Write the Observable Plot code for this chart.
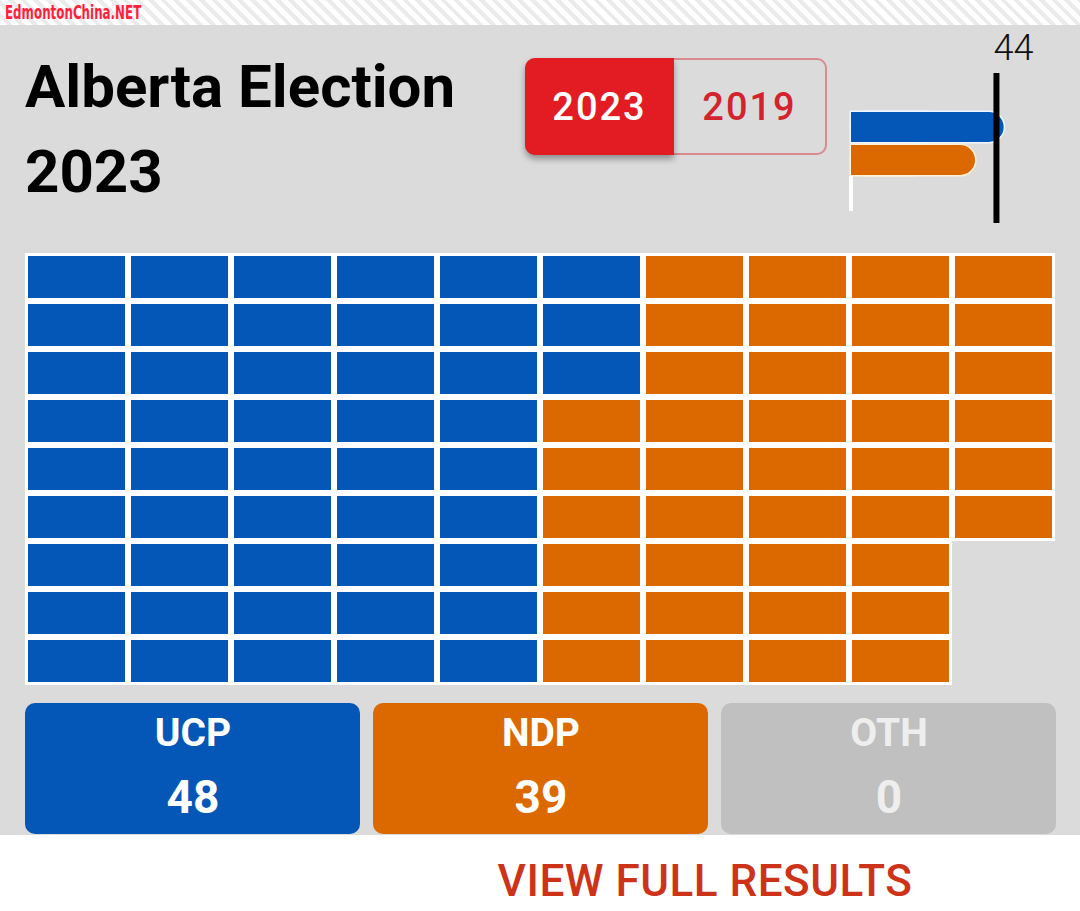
<!DOCTYPE html>
<html>
<head>
<meta charset="utf-8">
<script src="https://cdn.jsdelivr.net/npm/d3@7"></script>
<script src="https://cdn.jsdelivr.net/npm/@observablehq/plot@0.6"></script>
<style>
  html, body { margin: 0; padding: 0; }
  body { width: 1080px; height: 911px; overflow: hidden; background: #fff; font-family: Roboto, "Noto Sans", sans-serif; }
  #page { position: relative; width: 1080px; height: 911px; }
  #stripe { position: absolute; left: 0; top: 0; width: 1080px; height: 25px;
    background: repeating-linear-gradient(45deg, #ffffff 0 5px, #ebebeb 5px 9px); }
  #brand { position: absolute; left: 5px; top: 0px; font-family: "DejaVu Sans Condensed", "DejaVu Sans", sans-serif;
    font-weight: bold; font-size: 20px; color: #ff1f3d; transform: scaleX(0.66); transform-origin: left top; white-space: nowrap; }
  #panel { position: absolute; left: 0; top: 25px; width: 1080px; height: 810px; background: #dcdbdc; }
  #title { position: absolute; left: 25px; top: 44px; font-weight: 700; font-size: 60px; line-height: 85px; color: #000; }
  #toggle { position: absolute; left: 525px; top: 58px; width: 298px; height: 93px; border: 2px solid #d98a8f; border-radius: 10px; }
  #btn23 { position: absolute; left: 525px; top: 58px; width: 149px; height: 97px; background: #e31b23; border-radius: 10px 0 0 10px;
    box-shadow: 0 4px 6px rgba(0,0,0,0.35); color: #fff; font-weight: 500; font-size: 38px; letter-spacing: 2px;
    display: flex; align-items: center; justify-content: center; }
  #btn19 { position: absolute; left: 674px; top: 58px; width: 151px; height: 97px; color: #d3232e; font-weight: 500; font-size: 38px; letter-spacing: 2px;
    display: flex; align-items: center; justify-content: center; }
  #mini { position: absolute; left: 830px; top: 25px; }
  #waffle { position: absolute; left: 0; top: 240px; }
  #cards { position: absolute; left: 0; top: 695px; }
  #view { position: absolute; left: 0; width: 1080px; top: 855px; text-align: center; padding-left: 330px; box-sizing: border-box;
    font-weight: 500; font-size: 44px; color: #cc3318; letter-spacing: 0.5px; }
  svg { overflow: visible; }
</style>
</head>
<body>
<div id="page">
  <div id="stripe"></div>
  <div id="brand">EdmontonChina.NET</div>
  <div id="panel"></div>
  <div id="title">Alberta Election<br>2023</div>
  <div id="toggle"></div>
  <div id="btn23">2023</div>
  <div id="btn19">2019</div>
  <div id="mini"></div>
  <div id="waffle"></div>
  <div id="cards"></div>
  <div id="view">VIEW FULL RESULTS</div>
</div>
<script>
// ---- data ----
const parties = ["UCP", "NDP", "OTH"];
const seats = [48, 39, 0];
const partyColors = ["#0457b6", "#dc6900", "#c0c0c0"];
const outlineColors = ["#eef6ff", "#fff2d8", "#ffffff"];
const cardTextColors = ["#ffffff", "#ffffff", "#eeeeee"];
const majority = 44;
const gridRows = 9;
const gridCols = 10;

const rows = parties.map((p, i) => ({party: p, seats: seats[i], color: partyColors[i], outline: outlineColors[i], text: cardTextColors[i]}));

// waffle layout: fill column by column, top to bottom
const cells = [];
let idx = 0;
rows.forEach(r => {
  for (let k = 0; k < r.seats; k++, idx++) {
    cells.push({party: r.party, col: Math.floor(idx / gridRows), row: idx % gridRows});
  }
});

const color = {domain: parties, range: partyColors};
const won = rows.filter(d => d.seats > 0);
const none = rows.filter(d => d.seats === 0);

// ---- mini bar chart ----
const mini = Plot.plot({
  width: 250, height: 215,
  marginLeft: 21, marginRight: 0, marginTop: 83, marginBottom: 28,
  x: {domain: [0, 72], axis: null},
  y: {domain: parties, axis: null, padding: 0.1},
  style: {background: "transparent", overflow: "visible"},
  marks: [
    Plot.barX(won, {x: "seats", y: "party", fill: "outline", stroke: "outline", strokeWidth: 3, rx: 15}),
    Plot.barX(won, {x: d => d.seats / 2, y: "party", fill: "outline", stroke: "outline", strokeWidth: 3}),
    Plot.barX(won, {x: "seats", y: "party", fill: "color", rx: 15}),
    Plot.barX(won, {x: d => d.seats / 2, y: "party", fill: "color"}),
    Plot.rect(none, {x1: "seats", x2: "seats", y: "party", fill: "#ffffff", insetLeft: -2, insetRight: -2, insetTop: -2, insetBottom: -3}),
    Plot.ruleX([majority], {stroke: "#000", strokeWidth: 6, insetTop: -35, insetBottom: -11, dx: 5}),
    Plot.text([majority], {x: d => d, text: d => String(d), frameAnchor: "top", dy: -60, dx: 22, fontSize: 36, fontWeight: 300, fill: "#111", lineAnchor: "middle", fontFamily: "Roboto"})
  ]
});
document.getElementById("mini").append(mini);

// ---- waffle ----
const waffle = Plot.plot({
  width: 1080, height: 460,
  marginLeft: 24, marginRight: 24, marginTop: 12, marginBottom: 15,
  x: {domain: d3.range(gridCols), axis: null, padding: 0},
  y: {domain: d3.range(gridRows), axis: null, padding: 0},
  color,
  style: {background: "transparent"},
  marks: [
    Plot.cell(cells, {x: "col", y: "row", fill: "white", inset: 0}),
    Plot.cell(cells, {x: "col", y: "row", fill: "party", inset: 3})
  ]
});
document.getElementById("waffle").append(waffle);

// ---- cards ----
const cards = Plot.plot({
  width: 1080, height: 145,
  marginLeft: 24, marginRight: 24, marginTop: 8, marginBottom: 6,
  x: {domain: parties, axis: null, paddingInner: 0.0374, paddingOuter: 0},
  color,
  style: {background: "transparent", fontFamily: "Roboto"},
  marks: [
    Plot.cell(rows, {x: "party", fill: "party", rx: 10, inset: 0}),
    Plot.text(rows, {x: "party", text: "party", frameAnchor: "top", dy: 30, fill: "text", fontSize: 39, fontWeight: 700, lineAnchor: "middle"}),
    Plot.text(rows, {x: "party", text: d => String(d.seats), frameAnchor: "top", dy: 95, fill: "text", fontSize: 46, fontWeight: 700, lineAnchor: "middle"})
  ]
});
document.getElementById("cards").append(cards);
</script>
</body>
</html>
